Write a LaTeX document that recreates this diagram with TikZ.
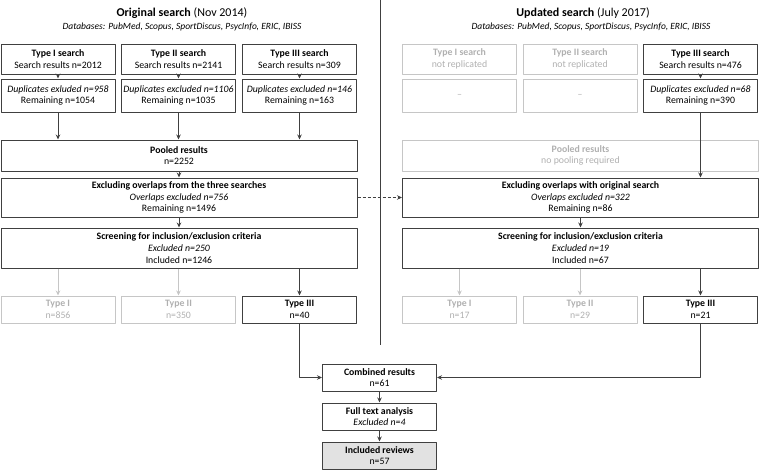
\documentclass[tikz,border=0pt]{standalone}
\usepackage{fontspec}
\setmainfont{Carlito}
\usetikzlibrary{arrows.meta}
\definecolor{edgeline}{HTML}{404040}
\definecolor{fadedline}{HTML}{C6C6C6}
\definecolor{fadedtext}{HTML}{B0B0B0}
\definecolor{finalfill}{HTML}{E2E2E2}
\begin{document}
\begin{tikzpicture}[x=1pt,y=-1pt,line join = round,>={Stealth[length=5pt,width=4.5pt]},line width=1pt,
	box/.style={draw=edgeline,align=center,inner sep=0pt,font=\fontsize{9.8}{11.6}\selectfont,minimum width=114pt},
	wide/.style={box,minimum width=356pt},
	faded/.style={draw=fadedline,text=fadedtext},
	arr/.style={->,draw=edgeline},
	fadedarr/.style={->,draw=fadedline}]
	\useasboundingbox (0,0) rectangle (761,471);
	% headings
	\node (orig) at (182,13) {\fontsize{12}{14}\selectfont\textbf{Original search} (Nov 2014)};
	\node (origdb) at (182,27) {\fontsize{9.5}{11}\selectfont\itshape Databases: PubMed, Scopus, SportDiscus, PsycInfo, ERIC, IBISS};
	\node (upd) at (583,13) {\fontsize{12}{14}\selectfont\textbf{Updated search} (July 2017)};
	\node (upddb) at (591,27) {\fontsize{9.5}{11}\selectfont\itshape Databases: PubMed, Scopus, SportDiscus, PsycInfo, ERIC, IBISS};
	% original search
	\node[box,minimum height=30pt] (s1) at (58,59) {\textbf{Type I search}\\Search results n=2012};
	\node[box,minimum height=30pt] (s2) at (178.5,59) {\textbf{Type II search}\\Search results n=2141};
	\node[box,minimum height=30pt] (s3) at (299.5,59) {\textbf{Type III search}\\Search results n=309};
	\node[box,minimum height=33pt] (d1) at (58,95.5) {\textit{Duplicates exluded n=958}\\Remaining n=1054};
	\node[box,minimum height=33pt] (d2) at (178.5,95.5) {\textit{Duplicates excluded n=1106}\\Remaining n=1035};
	\node[box,minimum height=33pt] (d3) at (299.5,95.5) {\textit{Duplicates excluded n=146}\\Remaining n=163};
	\node[wide,minimum height=31pt] (pool) at (179,155.5) {\textbf{Pooled results}\\n=2252};
	\node[wide,minimum height=39pt] (overlap) at (179,197.5) {\textbf{Excluding overlaps from the three searches}\\\textit{Overlaps excluded n=756}\\Remaining n=1496};
	\node[wide,minimum height=40pt] (screen) at (179,248) {\textbf{Screening for inclusion/exclusion criteria}\\\textit{Excluded n=250}\\Included n=1246};
	\node[box,faded,minimum height=27pt] (t1) at (58,309.5) {\textbf{Type I}\\n=856};
	\node[box,faded,minimum height=27pt] (t2) at (178.5,309.5) {\textbf{Type II}\\n=350};
	\node[box,minimum height=27pt] (t3) at (299.5,309.5) {\textbf{Type III}\\n=40};
	% updated search
	\node[box,faded,minimum height=30pt] (us1) at (459.5,59) {\textbf{Type I search}\\not replicated};
	\node[box,faded,minimum height=30pt] (us2) at (580,59) {\textbf{Type II search}\\not replicated};
	\node[box,minimum height=30pt] (us3) at (700.5,59) {\textbf{Type III search}\\Search results n=476};
	\node[box,faded,minimum height=33pt] (ud1) at (459.5,95.5) {--};
	\node[box,faded,minimum height=33pt] (ud2) at (580,95.5) {--};
	\node[box,minimum height=33pt] (ud3) at (700.5,95.5) {\textit{Duplicates excluded n=68}\\Remaining n=390};
	\node[wide,faded,minimum height=31pt] (upool) at (580.5,155.5) {\textbf{Pooled results}\\no pooling required};
	\node[wide,minimum height=39pt] (uoverlap) at (580.5,197.5) {\textbf{Excluding overlaps with original search}\\\textit{Overlaps excluded n=322}\\Remaining n=86};
	\node[wide,minimum height=40pt] (uscreen) at (580.5,248) {\textbf{Screening for inclusion/exclusion criteria}\\\textit{Excluded n=19}\\Included n=67};
	\node[box,faded,minimum height=27pt] (ut1) at (459.5,309.5) {\textbf{Type I}\\n=17};
	\node[box,faded,minimum height=27pt] (ut2) at (580,309.5) {\textbf{Type II}\\n=29};
	\node[box,minimum height=27pt] (ut3) at (700.5,309.5) {\textbf{Type III}\\n=21};
	% combined
	\node[box,minimum height=27pt] (comb) at (379.5,377.5) {\textbf{Combined results}\\n=61};
	\node[box,minimum height=27pt] (full) at (379.5,416.5) {\textbf{Full text analysis}\\\textit{Excluded n=4}};
	\node[box,fill=finalfill,minimum height=27pt] (incl) at (379.5,455.5) {\textbf{Included reviews}\\n=57};
	% arrows
	\foreach \i in {1,2,3} {
		\draw[arr] (s\i) -- (d\i);
		\draw[arr] (d\i) -- (d\i |- pool.north);
	}
	\draw[arr] (pool) -- (overlap);
	\draw[arr] (overlap) -- (screen);
	\draw[fadedarr] (t1 |- screen.south) -- (t1);
	\draw[fadedarr] (t2 |- screen.south) -- (t2);
	\draw[arr] (t3 |- screen.south) -- (t3);
	\draw[arr] (us3) -- (ud3);
	\draw[arr] (ud3) -- (ud3 |- uoverlap.north);
	\draw[arr] (uoverlap) -- (uscreen);
	\draw[fadedarr] (ut1 |- uscreen.south) -- (ut1);
	\draw[fadedarr] (ut2 |- uscreen.south) -- (ut2);
	\draw[arr] (ut3 |- uscreen.south) -- (ut3);
	\draw[arr,dash pattern=on 3pt off 2pt] (overlap) -- (uoverlap);
	\draw[arr] (t3) |- (comb);
	\draw[arr] (ut3) |- (comb);
	\draw[arr] (comb) -- (full);
	\draw[arr] (full) -- (incl);
	\draw[edgeline,line width=0.8pt] (380,0) -- (380,345);
\end{tikzpicture}
\end{document}
